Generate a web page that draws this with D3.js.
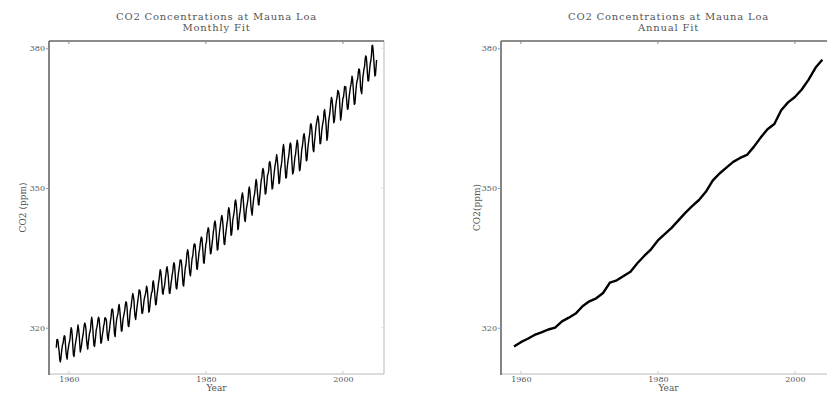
<!DOCTYPE html>
<html>
<head>
<meta charset="utf-8">
<script src="https://cdn.jsdelivr.net/npm/d3@7"></script>
<style>
  body { margin: 0; background: #fff; }
  svg { display: block; }
  text { font-family: "DejaVu Serif", serif; fill: #555; }
</style>
</head>
<body>
<div id="chart"></div>
<script>
// Mauna Loa CO2, monthly values (ppm) from March 1958 to December 2004
const monthlyStart = 1958 + 2 / 12;
const monthlyCO2 = [
  315.71, 317.45, 317.50, 317.10, 315.86, 314.93, 313.20, 312.66, 313.33, 314.67,
  315.62, 316.38, 316.71, 317.72, 318.29, 318.15, 316.54, 314.80, 313.84, 313.26, 314.80, 315.58,
  316.43, 316.97, 317.58, 319.02, 320.03, 319.59, 318.18, 315.91, 314.16, 313.83, 315.00, 316.19,
  316.93, 317.70, 318.54, 319.48, 320.58, 319.77, 318.57, 316.79, 314.80, 315.38, 316.10, 317.01,
  317.94, 318.56, 319.68, 320.63, 321.01, 320.55, 319.58, 317.40, 316.26, 315.42, 316.69, 317.69,
  318.74, 319.08, 319.86, 321.39, 322.25, 321.47, 319.74, 317.77, 316.21, 315.99, 317.12, 318.31,
  319.57, 320.07, 320.73, 321.77, 322.25, 321.89, 320.44, 318.70, 316.70, 316.79, 317.79, 318.71,
  319.44, 320.44, 320.89, 322.13, 322.16, 321.87, 321.39, 318.81, 317.81, 317.30, 318.87, 319.42,
  320.62, 321.59, 322.39, 323.87, 324.01, 323.75, 322.39, 320.37, 318.64, 318.10, 319.79, 321.08,
  322.07, 322.50, 323.04, 324.42, 325.00, 324.09, 322.55, 320.92, 319.31, 319.31, 320.72, 321.96,
  322.57, 323.15, 323.89, 325.02, 325.57, 325.36, 324.14, 322.03, 320.41, 320.25, 321.31, 322.84,
  324.00, 324.42, 325.64, 326.66, 327.34, 326.76, 325.88, 323.67, 322.38, 321.78, 322.85, 324.11,
  325.03, 325.99, 326.87, 328.13, 328.07, 327.66, 326.35, 324.69, 323.10, 323.16, 323.98, 325.13,
  326.17, 326.68, 327.18, 327.78, 328.92, 328.57, 327.34, 325.46, 323.36, 323.57, 324.80, 326.01,
  326.77, 327.63, 327.75, 329.72, 330.07, 329.09, 328.05, 326.32, 324.93, 325.06, 326.50, 327.55,
  328.54, 329.56, 330.30, 331.50, 332.48, 332.07, 330.87, 329.31, 327.51, 327.18, 328.16, 328.64,
  329.35, 330.71, 331.48, 332.65, 333.09, 332.25, 331.18, 329.40, 327.43, 327.37, 328.46, 329.57,
  330.40, 331.40, 332.04, 333.31, 333.96, 333.59, 331.91, 330.06, 328.56, 328.34, 329.49, 330.76,
  331.75, 332.56, 333.50, 334.58, 334.57, 334.34, 333.05, 330.94, 329.30, 328.94, 330.31, 331.68,
  332.93, 333.42, 334.70, 336.07, 336.74, 336.27, 334.93, 332.75, 331.58, 331.16, 332.40, 333.85,
  334.97, 335.39, 336.64, 337.76, 338.01, 337.89, 336.54, 334.68, 332.76, 332.54, 333.92, 334.95,
  336.23, 336.76, 337.96, 338.89, 339.47, 339.29, 337.73, 336.09, 333.91, 333.86, 335.29, 336.73,
  338.01, 338.36, 340.08, 340.77, 341.46, 341.17, 339.56, 337.60, 335.88, 336.01, 337.10, 338.21,
  339.23, 340.47, 341.38, 342.51, 342.91, 342.25, 340.49, 338.43, 336.69, 336.85, 338.36, 339.61,
  340.75, 341.61, 342.70, 343.56, 344.13, 343.35, 342.06, 339.82, 337.97, 337.86, 339.26, 340.49,
  341.38, 342.52, 343.10, 344.94, 345.75, 345.32, 343.99, 342.39, 339.86, 339.99, 341.16, 342.99,
  343.70, 344.51, 345.28, 347.08, 347.43, 346.79, 345.40, 343.28, 341.07, 341.35, 342.98, 344.22,
  344.97, 345.99, 347.42, 348.35, 348.93, 348.25, 346.56, 344.69, 343.09, 342.80, 344.24, 345.56,
  346.29, 346.96, 347.86, 349.55, 350.21, 349.54, 347.94, 345.91, 344.86, 344.17, 345.66, 346.90,
  348.02, 348.47, 349.42, 350.99, 351.84, 351.25, 349.52, 348.10, 346.44, 346.36, 347.81, 348.96,
  350.43, 351.72, 352.22, 353.59, 354.22, 353.79, 352.39, 350.44, 348.72, 348.88, 350.07, 351.34,
  352.76, 353.07, 353.68, 355.42, 355.67, 355.13, 353.90, 351.67, 349.80, 349.99, 351.30, 352.53,
  353.66, 354.70, 355.39, 356.20, 357.16, 356.22, 354.82, 352.91, 350.96, 351.18, 352.83, 354.21,
  354.72, 355.75, 357.16, 358.60, 359.34, 358.24, 356.17, 354.02, 352.15, 352.21, 353.75, 354.99,
  355.99, 356.72, 357.81, 359.15, 359.66, 359.25, 357.02, 355.00, 353.01, 353.31, 354.16, 355.40,
  356.70, 357.17, 358.38, 359.46, 360.28, 359.60, 357.57, 355.52, 353.70, 353.98, 355.33, 356.80,
  358.36, 358.91, 359.97, 361.26, 361.68, 360.95, 359.55, 357.49, 355.84, 356.00, 357.59, 359.05,
  359.98, 361.03, 361.66, 363.48, 363.82, 363.30, 361.94, 359.50, 358.11, 357.80, 359.61, 360.74,
  362.09, 363.29, 364.06, 364.76, 365.45, 365.01, 363.70, 361.54, 359.51, 359.65, 360.80, 362.38,
  363.23, 364.06, 364.61, 366.40, 366.84, 365.68, 364.52, 362.57, 360.24, 360.83, 362.49, 364.34,
  365.16, 365.98, 367.13, 368.61, 369.46, 368.95, 367.74, 365.79, 364.01, 364.35, 365.52, 367.08,
  368.12, 368.98, 369.60, 370.96, 370.77, 370.33, 369.28, 366.86, 364.58, 365.32, 366.68, 368.04,
  369.25, 369.50, 370.56, 371.82, 371.51, 371.71, 369.85, 368.20, 366.91, 366.99, 368.33, 369.67,
  370.52, 371.50, 372.12, 372.87, 374.02, 373.30, 371.62, 369.55, 367.96, 368.09, 369.68, 371.24,
  372.44, 373.08, 373.52, 374.85, 375.55, 375.40, 374.02, 371.48, 370.71, 370.25, 372.08, 373.78,
  374.68, 375.63, 376.11, 377.65, 378.35, 378.13, 376.62, 374.50, 372.99, 373.01, 374.35, 375.70,
  376.79, 377.37, 378.41, 380.52, 380.63, 379.57, 377.79, 375.86, 374.06, 374.24, 375.86, 377.48
];

// annual means
const annualYears = [
  1959, 1960, 1961, 1962, 1963, 1964, 1965, 1966, 1967, 1968, 1969, 1970, 1971, 1972, 1973,
  1974, 1975, 1976, 1977, 1978, 1979, 1980, 1981, 1982, 1983, 1984, 1985, 1986, 1987, 1988,
  1989, 1990, 1991, 1992, 1993, 1994, 1995, 1996, 1997, 1998, 1999, 2000, 2001, 2002, 2003, 2004
];
const annualCO2 = [
  315.97, 316.91, 317.64, 318.45, 318.99, 319.62, 320.04, 321.38, 322.16, 323.04, 324.62, 325.68,
  326.32, 327.46, 329.68, 330.19, 331.13, 332.03, 333.84, 335.41, 336.84, 338.75, 340.11, 341.45,
  343.05, 344.66, 346.12, 347.42, 349.19, 351.57, 353.12, 354.39, 355.61, 356.45, 357.10, 358.83,
  360.82, 362.61, 363.73, 366.70, 368.38, 369.55, 371.14, 373.28, 375.80, 377.52
];

const xTicks = [1960, 1980, 2000];
const yTicks = [320, 350, 380];

const width = 827, height = 393;
const plotW = 335, plotH = 333;

const svg = d3.select("#chart").append("svg")
  .attr("width", width)
  .attr("height", height);

const monthly = monthlyCO2.map((v, i) => ({ t: monthlyStart + i / 12, v: v }));
const annual = annualYears.map((y, i) => ({ t: y, v: annualCO2[i] }));

function drawPanel(left, top, data, subtitle, ylabel, lineWidth, ylabelOffset) {
  const g = svg.append("g").attr("transform", "translate(" + left + "," + top + ")");

  const x = d3.scaleLinear().domain([1957.1, 2006]).range([0, plotW]);
  const y = d3.scaleLinear().domain([310.07, 381.56]).range([plotH, 0]);

  // two-line title
  const title = g.append("text")
    .attr("text-anchor", "middle")
    .style("font-size", "10px")
    .style("letter-spacing", "0.8px");
  title.append("tspan").attr("x", plotW / 2).attr("y", -21).text("CO2 Concentrations at Mauna Loa");
  title.append("tspan").attr("x", plotW / 2).attr("y", -10).text(subtitle);

  // data line
  g.append("path")
    .datum(data)
    .attr("fill", "none")
    .attr("stroke", "#000")
    .attr("stroke-width", lineWidth)
    .attr("stroke-linejoin", "round")
    .attr("d", d3.line().x(d => x(d.t)).y(d => y(d.v)));

  // spines: light right and bottom, dark left and top
  g.append("line").attr("x1", plotW).attr("x2", plotW).attr("y1", 0).attr("y2", plotH)
    .attr("stroke", "#d0d0d0").attr("stroke-width", 1.5);
  g.append("line").attr("x1", 0).attr("x2", plotW).attr("y1", plotH).attr("y2", plotH)
    .attr("stroke", "#d0d0d0").attr("stroke-width", 1.5);
  g.append("line").attr("x1", 0).attr("x2", 0).attr("y1", 0).attr("y2", plotH + 1)
    .attr("stroke", "#666").attr("stroke-width", 1.6);
  g.append("line").attr("x1", 0).attr("x2", plotW).attr("y1", 0).attr("y2", 0)
    .attr("stroke", "#666").attr("stroke-width", 1.6);

  // top ticks, inside
  g.selectAll(".ttick").data(xTicks).enter().append("line")
    .attr("x1", d => x(d)).attr("x2", d => x(d)).attr("y1", 0).attr("y2", 3)
    .attr("stroke", "#888").attr("stroke-width", 1);
  // bottom ticks, inside
  g.selectAll(".btick").data(xTicks).enter().append("line")
    .attr("x1", d => x(d)).attr("x2", d => x(d)).attr("y1", plotH).attr("y2", plotH - 3)
    .attr("stroke", "#ccc").attr("stroke-width", 1);
  // right ticks, inside
  g.selectAll(".rtick").data(yTicks).enter().append("line")
    .attr("x1", plotW).attr("x2", plotW - 3).attr("y1", d => y(d)).attr("y2", d => y(d))
    .attr("stroke", "#ddd").attr("stroke-width", 1);

  // x axis labels
  const xAxis = d3.axisBottom(x).tickValues(xTicks).tickFormat(d3.format("d")).tickSize(0).tickPadding(0);
  const xa = g.append("g").attr("transform", "translate(0," + plotH + ")").call(xAxis);
  xa.select(".domain").remove();
  xa.selectAll("text").attr("dy", null).attr("y", 8).style("font-size", "8px")
    .attr("fill", "#555").style("font-family", "DejaVu Serif");

  // y axis labels with small outside ticks
  const yAxis = d3.axisLeft(y).tickValues(yTicks).tickFormat(d3.format("d")).tickSize(3).tickPadding(1);
  const ya = g.append("g").call(yAxis);
  ya.select(".domain").remove();
  ya.selectAll("line").attr("stroke", "#999");
  ya.selectAll("text").style("font-size", "8px").attr("fill", "#555").style("font-family", "DejaVu Serif");

  g.append("text")
    .attr("x", plotW / 2)
    .attr("y", plotH + 17)
    .attr("text-anchor", "middle")
    .style("font-size", "9px")
    .text("Year");

  g.append("text")
    .attr("transform", "translate(" + ylabelOffset + "," + plotH / 2 + ") rotate(-90)")
    .attr("text-anchor", "middle")
    .attr("dominant-baseline", "middle")
    .style("font-size", "9px")
    .text(ylabel);
}

drawPanel(49, 41, monthly, "Monthly Fit", "CO2 (ppm)", 1.4, -26);
drawPanel(501, 41, annual, "Annual Fit", "CO2(ppm)", 2.4, -24);
</script>
</body>
</html>
